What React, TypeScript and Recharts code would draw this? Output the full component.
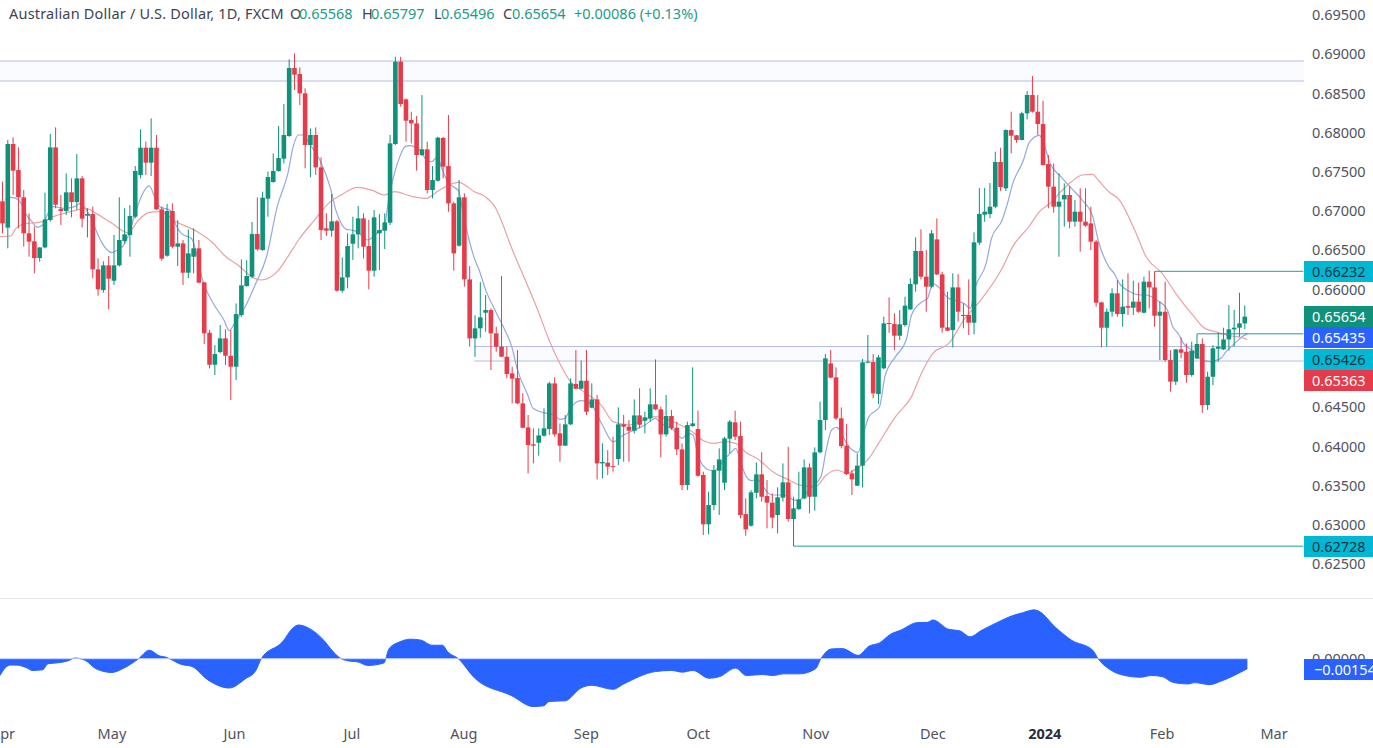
import React from "react";
import { ComposedChart, Bar, Line, Area, XAxis, YAxis, ReferenceArea, ReferenceLine } from "recharts";

const FONT = "'Noto Sans', 'Open Sans', sans-serif";
const FONT_SIZE = 14.5;
const UP = "#0f9279";
const DOWN = "#e63b4a";
const TEAL = "#1f9e9e";
const SLOTS = 246;

const opens = [
.67124,.66788,.67855,.67523,.67175,.66716,.66614,.66401,.66537,.66886,
.67812,.67026,.67001,.67239,.67115,.67417,.66941,.66962,.66257,.65993,
.66308,.66112,.66308,.66618,.66695,.66928,.67460,.67808,.67617,.67808,
.67022,.66431,.67001,.66546,.66588,.66214,.66418,.66525,.66091,.65449,
.65041,.65203,.65377,.65156,.65016,.65675,.66044,.66163,.66707,.66503,
.67158,.67370,.67511,.67668,.67957,.68824,.68747,.68501,.67842,.67970,
.67557,.66780,.66750,.66869,.65985,.66155,.66584,.66703,.66907,.66554,
.66240,.66716,.66750,.66852,.67855,.68905,.68424,.68161,.68118,.67715,
.67787,.67268,.67387,.67932,.67574,.67098,.66559,.67175,.66129,.65377,
.65505,.65704,.65738,.65441,.65271,.65143,.64931,.64871,.64548,.64242,
.64026,.64047,.64136,.64221,.64803,.64166,.64009,.64281,.64795,.64735,
.64837,.64493,.64599,.63783,.63792,.63749,.63839,.64281,.64251,.64200,
.64395,.64327,.64357,.64536,.64472,.64153,.64387,.64238,.63962,.63507,
.64259,.64221,.63635,.63006,.63252,.63690,.63537,.64098,.64306,.64132,
.63137,.62989,.63409,.63643,.63367,.63282,.63125,.63346,.63541,.63074,
.63201,.63337,.63732,.63358,.63924,.64336,.65058,.64880,.64357,.64009,
.63656,.63499,.63754,.65067,.65075,.64667,.64995,.65573,.65560,.65411,
.65547,.65747,.66066,.66491,.66163,.66036,.66639,.66193,.65517,.65483,
.66027,.65662,.65675,.65577,.66597,.66954,.66963,.67056,.67626,.67290,
.68033,.67966,.67906,.68246,.68480,.68267,.68110,.67600,.67311,.67056,
.67149,.67205,.66865,.66992,.66865,.66843,.66610,.65836,.65513,.65717,
.65951,.65687,.65789,.65768,.65845,.65704,.66100,.66027,.65666,.65717,
.65101,.64825,.65237,.65207,.64910,.65122,.65305,.64527,.64888,.65245,
.65237,.65364,.65492,.65513,.65568,
];
const closes = [
.66843,.67855,.67515,.67175,.66716,.66610,.66401,.66537,.66894,.67812,
.67081,.67001,.67239,.67115,.67417,.66903,.66962,.66257,.66002,.66308,
.66138,.66308,.66631,.66703,.66937,.67511,.67808,.67617,.67808,.67022,
.66393,.67001,.66546,.66588,.66214,.66461,.66525,.66087,.65441,.65041,
.65177,.65377,.65156,.65016,.65687,.66053,.66172,.66707,.66512,.67171,
.67434,.67511,.67676,.67970,.68824,.68739,.68501,.67842,.67970,.67557,
.66758,.66750,.66869,.65985,.66155,.66554,.66703,.66907,.66546,.66240,
.66920,.66758,.66856,.67863,.68905,.68365,.68152,.68118,.67715,.67787,
.67268,.67396,.67936,.67566,.67098,.66461,.67175,.66129,.65377,.65505,
.65645,.65738,.65441,.65271,.65143,.64922,.64863,.64548,.64238,.64017,
.64009,.64140,.64230,.64803,.64153,.64009,.64281,.64803,.64735,.64837,
.64442,.64599,.63783,.63801,.63741,.63741,.64281,.64251,.64200,.64395,
.64276,.64370,.64536,.64472,.64153,.64387,.64230,.63962,.63507,.64272,
.64293,.63626,.63006,.63252,.63698,.63834,.64102,.64315,.64123,.63125,
.62942,.63414,.63643,.63358,.63282,.63091,.63350,.63541,.63074,.63210,
.63324,.63732,.63358,.63924,.64336,.65122,.64876,.64357,.64004,.63647,
.63579,.63754,.65071,.65080,.64676,.65135,.65568,.65560,.65411,.65556,
.65794,.66070,.66491,.66163,.66036,.66716,.66193,.65513,.65475,.66027,
.65717,.65675,.65577,.66601,.66963,.66992,.67056,.67626,.67307,.68033,
.67961,.67906,.68246,.68480,.68267,.68110,.67587,.67311,.67056,.67120,
.67205,.66865,.66992,.66865,.66814,.66610,.65832,.65513,.65717,.65951,
.65687,.65781,.65768,.65845,.65717,.66100,.66027,.65666,.65717,.65101,
.64825,.65237,.65194,.64910,.65220,.65305,.64527,.64888,.65250,.65271,
.65364,.65492,.65513,.65568,.65654,
];
const highs = [
.67375,.67906,.67940,.67812,.67268,.66971,.66801,.66537,.67234,.67982,
.68067,.67205,.67481,.67417,.67727,.67447,.67035,.67056,.66397,.66359,
.66427,.66695,.67175,.67035,.67077,.67574,.68042,.67885,.68182,.67970,
.67056,.67090,.67098,.66886,.66631,.66767,.66780,.66631,.66091,.65483,
.65292,.65547,.65492,.65483,.65823,.66384,.66376,.66861,.67175,.67247,
.67502,.67736,.68084,.68365,.68934,.69011,.68832,.68565,.68055,.68067,
.67685,.66971,.67217,.66886,.66410,.66716,.66928,.67064,.66971,.66886,
.67013,.66962,.66971,.67970,.68968,.68968,.68437,.68267,.68212,.68480,
.67885,.67574,.67948,.67948,.68225,.67120,.67396,.67226,.66299,.65671,
.66095,.65930,.65760,.65526,.66172,.65271,.65016,.65228,.64676,.64400,
.64230,.64230,.64485,.64825,.64880,.64293,.64400,.64867,.65228,.65092,
.65228,.64803,.64655,.64038,.63953,.64124,.64497,.64400,.64336,.64599,
.64740,.64442,.64740,.65109,.64506,.64655,.64464,.64315,.64038,.64315,
.65007,.64455,.63677,.63422,.63762,.63975,.64123,.64336,.64455,.64315,
.63337,.63443,.63796,.63924,.63571,.63401,.63477,.63783,.63996,.63358,
.63677,.63834,.63783,.63987,.64570,.65177,.65228,.65007,.64497,.64285,
.63698,.63911,.65114,.65420,.65177,.65165,.65653,.65900,.65696,.65738,
.65908,.66142,.66665,.66767,.66503,.66758,.66907,.66227,.65972,.66206,
.66197,.65823,.66129,.66729,.67294,.67294,.67358,.67757,.67808,.68042,
.68267,.67970,.68267,.68531,.68722,.68480,.68407,.67715,.67608,.67481,
.67353,.67311,.67141,.67290,.67290,.67056,.66631,.65845,.65760,.66015,
.66121,.66129,.66206,.66112,.66087,.66163,.66240,.66232,.65845,.66100,
.65228,.65237,.65390,.65313,.65335,.65435,.65377,.64952,.65292,.65449,
.65513,.65802,.65738,.65959,.65797,
];
const lows = [
.66716,.66525,.67205,.66780,.66546,.66418,.66206,.66355,.66525,.66865,
.67035,.66822,.66950,.66920,.67013,.66792,.66665,.66142,.65921,.65959,
.65747,.66057,.66291,.66588,.66418,.66907,.67417,.67460,.67447,.67013,
.66367,.66418,.66525,.66299,.66057,.66146,.66206,.66078,.65305,.64995,
.64910,.65186,.65037,.64591,.64846,.65653,.66036,.66142,.66495,.66495,
.66928,.67362,.67502,.67608,.67948,.68543,.68352,.67545,.67430,.67460,
.66631,.66682,.66673,.65972,.65959,.66015,.66376,.66525,.66397,.66002,
.66163,.66249,.66516,.66822,.67842,.68331,.67885,.67863,.67515,.67702,
.67226,.67162,.67375,.67417,.66992,.66240,.66546,.66036,.65271,.65143,
.65386,.65462,.64973,.65207,.65143,.64867,.64548,.64540,.64230,.63656,
.63783,.63881,.64124,.64145,.64124,.63805,.64005,.64272,.64727,.64727,
.64400,.64485,.63579,.63592,.63635,.63677,.63762,.63805,.63805,.64166,
.64230,.64166,.64315,.64464,.63860,.64124,.64208,.63890,.63443,.63443,
.64251,.63613,.62870,.62878,.63188,.63125,.63443,.63911,.64081,.63082,
.62861,.62976,.63337,.63295,.62955,.62955,.62891,.63295,.63040,.62728,
.63188,.63324,.63146,.63180,.63911,.64208,.64868,.64336,.63975,.63635,
.63380,.63495,.63477,.65059,.64612,.64540,.64982,.65449,.65228,.65356,
.65526,.65738,.65972,.66129,.65717,.66015,.66185,.65449,.65471,.65262,
.65590,.65505,.65420,.65428,.66567,.66864,.66911,.67035,.67256,.67256,
.67736,.67872,.67902,.68169,.68254,.67970,.67583,.67035,.66979,.66418,
.66801,.66780,.66801,.66482,.66801,.66503,.65781,.65262,.65271,.65653,
.65653,.65526,.65675,.65675,.65704,.65696,.65760,.65526,.65101,.65080,
.64697,.64782,.65122,.64812,.64889,.65114,.64429,.64463,.64782,.65080,
.65228,.65220,.65271,.65398,.65496,
];

// [bar number, value] readings of the two moving averages
const fastMA: [number, number][] = [
[1,.67141],[2,.67175],[3,.67162],[4,.67098],[5,.66950],[6,.66865],[7,.66793],[8,.66822],[9,.66971],[10,.67056],
[12,.67035],[14,.67056],[15,.67098],[16,.67035],[17,.66928],[18,.66758],[19,.66610],[21,.66470],[22,.66504],[23,.66546],
[24,.66674],[25,.66886],[26,.67098],[28,.67320],[29,.67184],[30,.67056],[32,.67005],[33,.66822],[34,.66716],[36,.66644],
[37,.66418],[38,.66121],[40,.65824],[42,.65611],[43,.65475],[44,.65569],[46,.65781],[48,.66079],[50,.66418],[52,.67056],
[54,.67481],[55,.67821],[56,.67970],[57,.67970],[58,.67863],[60,.67651],[62,.67290],[63,.67013],[64,.66844],[65,.66767],
[66,.66758],[67,.66737],[69,.66631],[70,.66674],[71,.66737],[72,.66780],[73,.67184],[74,.67481],[75,.67694],[76,.67821],
[77,.67834],[78,.67812],[79,.67757],[80,.67651],[81,.67630],[82,.67685],[83,.67523],[84,.67375],[85,.67311],[86,.67260],
[87,.66928],[88,.66631],[89,.66397],[90,.66227],[91,.66015],[93,.65717],[95,.65441],[96,.65271],[97,.64995],[99,.64655],
[100,.64485],[102,.64430],[104,.64400],[105,.64345],[106,.64357],[107,.64485],[109,.64583],[110,.64570],[111,.64527],[113,.64272],
[115,.64060],[117,.64145],[119,.64209],[121,.64272],[123,.64357],[124,.64294],[126,.64230],[128,.64102],[129,.64166],[130,.64145],
[131,.63869],[133,.63699],[134,.63690],[136,.63847],[137,.63911],[138,.63975],[139,.63783],[140,.63614],[141,.63563],[142,.63580],
[143,.63507],[144,.63410],[145,.63380],[147,.63380],[149,.63316],[150,.63316],[151,.63380],[152,.63465],[154,.63614],[155,.63954],
[156,.64209],[157,.64243],[158,.64145],[159,.64018],[161,.63924],[162,.64166],[163,.64379],[165,.64506],[166,.64889],[168,.65144],
[170,.65356],[171,.65675],[173,.65845],[174,.65887],[175,.66079],[176,.66036],[178,.65887],[180,.65845],[181,.65815],[182,.65760],
[183,.66036],[185,.66333],[186,.66652],[188,.66886],[189,.67099],[190,.67354],[192,.67651],[193,.67864],[194,.67940],[195,.67966],
[196,.67821],[197,.67609],[199,.67439],[201,.67290],[203,.67141],[205,.66929],[206,.66631],[208,.66291],[209,.66206],[210,.66079],
[212,.65972],[214,.65930],[215,.65930],[217,.65866],[219,.65739],[220,.65526],[221,.65441],[222,.65314],[224,.65207],[225,.65122],
[227,.65080],[229,.65122],[230,.65207],[232,.65335],[233,.65399],[234,.65435],
];
const slowMA: [number, number][] = [
[0,.66674],[2,.66682],[3,.66780],[5,.66844],[7,.66852],[8,.66865],[10,.66929],[12,.66971],[14,.67005],[16,.67035],
[18,.66971],[21,.66844],[24,.66725],[26,.66886],[28,.66984],[30,.66992],[33,.66865],[37,.66737],[40,.66589],[42,.66440],
[45,.66291],[47,.66172],[49,.66121],[52,.66227],[54,.66418],[56,.66631],[59,.66886],[62,.67120],[64,.67205],[65,.67247],
[67,.67303],[70,.67260],[72,.67205],[74,.67247],[77,.67192],[80,.67162],[82,.67247],[85,.67353],[86,.67366],[89,.67247],
[91,.67184],[93,.67035],[94,.66886],[96,.66525],[98,.66206],[101,.65717],[103,.65356],[105,.65059],[107,.64825],[110,.64676],
[113,.64506],[115,.64315],[118,.64272],[120,.64315],[123,.64379],[127,.64294],[130,.64180],[132,.64072],[134,.64039],[136,.64060],
[138,.64039],[140,.63920],[142,.63847],[145,.63677],[148,.63571],[150,.63507],[153,.63486],[155,.63635],[157,.63699],[159,.63656],
[160,.63690],[163,.63847],[165,.64060],[168,.64379],[171,.64634],[173,.64952],[175,.65186],[178,.65314],[181,.65632],[184,.65866],
[188,.66270],[190,.66550],[193,.66800],[195,.66992],[197,.67099],[199,.67247],[201,.67375],[203,.67460],[205,.67468],[206,.67396],
[208,.67247],[210,.67141],[213,.66737],[215,.66418],[218,.66206],[221,.65909],[224,.65653],[226,.65505],[228,.65462],[229,.65441],
[231,.65407],[233,.65386],[234,.65363],
];
const oscillator: [number, number][] = [
[0,-.00259],[1,-.00140],[2,-.00098],[3,-.00098],[5,-.00140],[6,-.00181],[8,-.00171],[9,-.00078],[11,-.00062],[13,-.00026],
[14,.00010],[16,-.00026],[18,-.00155],[21,-.00212],[23,-.00155],[26,0],[28,.00130],[30,.00041],[31,.00026],[34,-.00088],
[36,-.00119],[39,-.00326],[43,-.00451],[46,-.00311],[48,-.00181],[49,0],[53,.00259],[55,.00477],[56,.00518],[58,.00466],
[61,.00259],[62,.00155],[64,0],[66,-.00041],[67,-.00047],[69,-.00104],[72,-.00067],[73,.00155],[75,.00259],[77,.00300],
[79,.00285],[81,.00207],[83,.00207],[84,.00104],[86,0],[89,-.00295],[96,-.00570],[100,-.00736],[102,-.00725],[103,-.00658],
[106,-.00648],[109,-.00451],[111,-.00409],[115,-.00471],[117,-.00389],[123,-.00197],[126,-.00181],[128,-.00207],[130,-.00181],[133,-.00300],
[135,-.00275],[138,-.00145],[140,-.00259],[143,-.00243],[145,-.00259],[147,-.00233],[150,-.00233],[153,-.00155],[154,0],[156,.00150],
[158,.00155],[161,.00052],[163,.00192],[165,.00243],[167,.00373],[169,.00440],[172,.00554],[174,.00559],[175,.00596],[178,.00451],
[180,.00430],[182,.00337],[184,.00430],[187,.00554],[190,.00663],[192,.00710],[194,.00751],[195,.00725],[198,.00482],[201,.00285],
[205,.00130],[206,0],[208,-.00155],[211,-.00259],[214,-.00285],[216,-.00259],[218,-.00275],[220,-.00363],[223,-.00389],[224,-.00368],
[227,-.00399],[229,-.00347],[234,-.00154],
];

const priceTicks = [0.625,0.63,0.635,0.64,0.645,0.66,0.665,0.67,0.675,0.68,0.685,0.69,0.695];
const monthTicks: [number, string][] = [[0,"Apr"],[21,"May"],[44,"Jun"],[66,"Jul"],[87,"Aug"],[110,"Sep"],[131,"Oct"],[153,"Nov"],[175,"Dec"],[196,"2024"],[218,"Feb"],[239,"Mar"]];
const upperZone = [0.68658, 0.68913];
const lowerZone = [0.65088, 0.65273];
const lowerZoneStart = 89;
const levels: [number, number][] = [[217, 0.66232], [225, 0.65435], [149, 0.62728]];
const PRICE_DOMAIN: [number, number] = [0.62067, 0.69691];

const priceTags = [
  { text: "0.66232", top: 261, bg: "#00b8d4", fg: "#17323c" },
  { text: "0.65654", top: 306, bg: "#0f9279", fg: "#ffffff" },
  { text: "0.65435", top: 327, bg: "#2962ff", fg: "#ffffff" },
  { text: "0.65426", top: 349, bg: "#00b8d4", fg: "#17323c" },
  { text: "0.65363", top: 370, bg: "#e63b4a", fg: "#ffffff" },
  { text: "0.62728", top: 536, bg: "#00b8d4", fg: "#17323c" },
];

const fastMap = new Map(fastMA);
const slowMap = new Map(slowMA);
const oscMap = new Map(oscillator);
const rows = Array.from({ length: SLOTS }, (_, i) => ({
  i,
  o: opens[i] ?? null,
  h: highs[i] ?? null,
  l: lows[i] ?? null,
  c: closes[i] ?? null,
  range: i < opens.length ? [lows[i], highs[i]] : null,
  fast: fastMap.get(i) ?? null,
  slow: slowMap.get(i) ?? null,
  osc: oscMap.get(i) ?? null,
}));

function Candle(props: any) {
  const { x, y, width, height, payload } = props;
  if (!payload || payload.o == null || !height) return null;
  const per = height / (payload.h - payload.l);
  const up = payload.c >= payload.o;
  const color = up ? UP : DOWN;
  const cx = x + width / 2;
  const top = y + (payload.h - Math.max(payload.o, payload.c)) * per;
  const bh = Math.max(1, Math.abs(payload.o - payload.c) * per);
  return (
    <g>
      <line x1={cx} x2={cx} y1={y} y2={y + height} stroke={color} strokeWidth={1} />
      <rect x={cx - 2.3} y={top} width={4.6} height={bh} fill={color} />
    </g>
  );
}

function MonthTick(props: any) {
  const { x, y, payload } = props;
  const label = monthTicks.find((m) => m[0] === payload.value)?.[1] ?? "";
  return (
    <text x={label === "Apr" ? x + 3 : x} y={y + 10} textAnchor="middle" dominantBaseline="central" fontFamily={FONT} fontSize={FONT_SIZE}
      fontWeight={label === "2024" ? 700 : 400} fill={label === "2024" ? "#2a2e39" : "#50535e"}>
      {label}
    </text>
  );
}

const tagStyle: React.CSSProperties = {
  position: "absolute", left: 1304, width: 69, height: 21, fontFamily: FONT, fontSize: FONT_SIZE,
  lineHeight: "21px", paddingLeft: 8, boxSizing: "border-box", whiteSpace: "nowrap", overflow: "hidden",
};
const head: React.CSSProperties = { position: "absolute", top: 3, fontFamily: FONT, fontSize: FONT_SIZE, whiteSpace: "nowrap", lineHeight: "20px" };
const HEAD_DARK = "#3f434e";
const HEAD_GREEN = "#1c9c86";
const margin = { top: 0, right: 0, bottom: 0, left: 0 };

export default function App() {
  return (
    <div style={{ position: "absolute", left: 0, top: 0, width: 1373, height: 748, background: "#fff", overflow: "hidden" }}>
      <div style={{ position: "absolute", left: 0, top: 0 }}>
        <ComposedChart width={1373} height={598} data={rows} margin={margin}>
          <XAxis dataKey="i" type="category" hide />
          <YAxis orientation="right" width={67} domain={PRICE_DOMAIN} allowDataOverflow ticks={priceTicks} interval={0}
            tickFormatter={(v: number) => v.toFixed(5)} axisLine={false} tickLine={false} tickSize={0} tickMargin={6}
            tick={{ fontFamily: FONT, fontSize: FONT_SIZE, fill: "#50535e" }} />
          <ReferenceArea y1={upperZone[0]} y2={upperZone[1]} fill="#fafbfe" fillOpacity={1} stroke="none" />
          <ReferenceLine y={upperZone[0]} stroke="#b4bde2" strokeWidth={1} />
          <ReferenceLine y={upperZone[1]} stroke="#b4bde2" strokeWidth={1} />
          <ReferenceArea x1={lowerZoneStart} x2={SLOTS - 1} y1={lowerZone[0]} y2={lowerZone[1]} fill="#fafbfe" fillOpacity={1} stroke="none" />
          <ReferenceLine segment={[{ x: lowerZoneStart, y: lowerZone[0] }, { x: SLOTS - 1, y: lowerZone[0] }]} stroke="#b4bde2" strokeWidth={1} />
          <ReferenceLine segment={[{ x: lowerZoneStart, y: lowerZone[1] }, { x: SLOTS - 1, y: lowerZone[1] }]} stroke="#b4bde2" strokeWidth={1} />
          <Line dataKey="fast" type="monotone" connectNulls stroke="#94a9dd" strokeWidth={1.2} dot={false} isAnimationActive={false} />
          <Line dataKey="slow" type="monotone" connectNulls stroke="#e9a2a4" strokeWidth={1.2} dot={false} isAnimationActive={false} />
        </ComposedChart>
      </div>
      <div style={{ position: "absolute", left: 0, top: 0 }}>
        <ComposedChart width={1373} height={598} data={rows} margin={margin} barCategoryGap={0} barGap={0} style={{ background: "transparent" }}>
          <XAxis dataKey="i" type="category" hide />
          <YAxis orientation="right" width={67} domain={PRICE_DOMAIN} allowDataOverflow ticks={[]} axisLine={false} tickLine={false} />
          <Bar dataKey="range" shape={<Candle />} isAnimationActive={false} />
          {levels.map(([i, v]) => (
            <ReferenceLine key={v} segment={[{ x: i, y: v }, { x: SLOTS - 1, y: v }]} stroke={TEAL} strokeWidth={1} />
          ))}
        </ComposedChart>
      </div>
      <div style={{ position: "absolute", left: 0, top: 599 }}>
        <ComposedChart width={1373} height={149} data={rows} margin={margin}>
          <XAxis dataKey="i" type="category" height={33} axisLine={false} tickLine={false} interval={0}
            ticks={monthTicks.map((m) => m[0])} tick={<MonthTick />} />
          <YAxis orientation="right" width={67} domain={[-0.00866, 0.00918]} allowDataOverflow ticks={[0]} interval={0}
            tickFormatter={(v: number) => v.toFixed(5)} axisLine={false} tickLine={false} tickSize={0} tickMargin={6}
            tick={{ fontFamily: FONT, fontSize: FONT_SIZE, fill: "#50535e" }} />
          <Area dataKey="osc" type="monotone" connectNulls baseValue={0} stroke="#2962ff" strokeWidth={1} fill="#2962ff" fillOpacity={1} dot={false} isAnimationActive={false} />
          <ReferenceLine segment={[{ x: 0, y: 0 }, { x: 234, y: 0 }]} stroke="#c4d2ff" strokeWidth={1} />
        </ComposedChart>
      </div>
      <div style={{ position: "absolute", left: 1304, top: 0, width: 3, height: 260, background: "#fff" }} />
      <div style={{ position: "absolute", left: 0, top: 598, width: 1373, height: 1, background: "#e3e5ea" }} />

      <span style={{ ...head, left: 9, color: HEAD_DARK, letterSpacing: 0.2 }}>Australian Dollar / U.S. Dollar, 1D, FXCM</span>
      <span style={{ ...head, left: 290, color: HEAD_DARK }}>O</span>
      <span style={{ ...head, left: 299, color: HEAD_GREEN }}>0.65568</span>
      <span style={{ ...head, left: 362, color: HEAD_DARK }}>H</span>
      <span style={{ ...head, left: 371, color: HEAD_GREEN }}>0.65797</span>
      <span style={{ ...head, left: 434, color: HEAD_DARK }}>L</span>
      <span style={{ ...head, left: 441, color: HEAD_GREEN }}>0.65496</span>
      <span style={{ ...head, left: 503, color: HEAD_DARK }}>C</span>
      <span style={{ ...head, left: 512, color: HEAD_GREEN }}>0.65654</span>
      <span style={{ ...head, left: 574, color: HEAD_GREEN }}>+0.00086 (+0.13%)</span>

      {priceTags.map((t) => (
        <div key={t.text} style={{ ...tagStyle, top: t.top, background: t.bg, color: t.fg }}>{t.text}</div>
      ))}
      <div style={{ ...tagStyle, top: 659, background: "#2962ff", color: "#fff", paddingLeft: 10 }}>−0.00154</div>
    </div>
  );
}
